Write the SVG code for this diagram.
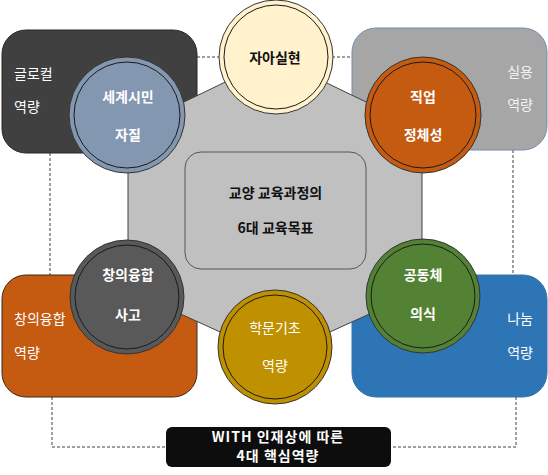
<svg xmlns="http://www.w3.org/2000/svg" width="548" height="475" viewBox="0 0 548 475">
<style>
text{font-family:"Noto Sans CJK KR","Noto Sans",sans-serif;font-size:14px;}
.b{font-weight:bold;}
.w{fill:#ffffff;}
.dash{fill:none;stroke:#404040;stroke-width:1;stroke-dasharray:3,2;}
.ring{fill:none;stroke:#1a1a1a;stroke-width:1;}
.outer{stroke:#333333;stroke-width:1;}
</style>
<rect width="548" height="475" fill="#ffffff"/>
<g id="connectors">
<line class="dash" x1="197" y1="57" x2="219" y2="57"/>
<line class="dash" x1="332" y1="57" x2="352" y2="57"/>
<line class="dash" x1="50" y1="153" x2="50" y2="275"/>
<line class="dash" x1="513" y1="150" x2="513" y2="275"/>
<polyline class="dash" points="52,397 52,447 167,447"/>
<polyline class="dash" points="516,397 516,447 391,447"/>
</g>
<g id="box-glocal">
<rect x="2" y="30" width="195" height="123" rx="24" fill="#404040" stroke="#262626"/>
<text x="14" y="79" class="w" font-size="13">글로컬</text>
<text x="14" y="112" class="w" font-size="13">역량</text>
</g>
<g id="box-practical">
<rect x="352" y="28" width="195" height="122" rx="24" fill="#a6a6a6" stroke="#6f8db0"/>
<text x="533" y="77" fill="#f2f2f2" font-size="13" text-anchor="end">실용</text>
<text x="533" y="110" fill="#f2f2f2" font-size="13" text-anchor="end">역량</text>
</g>
<g id="box-creative">
<rect x="2" y="275" width="195" height="122" rx="24" fill="#c55a11" stroke="#3a2a20"/>
<text x="14" y="324" class="w" font-size="13">창의융합</text>
<text x="14" y="358" class="w" font-size="13">역량</text>
</g>
<g id="box-sharing">
<rect x="352" y="275" width="195" height="122" rx="24" fill="#2e75b6" stroke="#2e75b6"/>
<text x="533" y="324" class="w" font-size="13" text-anchor="end">나눔</text>
<text x="533" y="358" class="w" font-size="13" text-anchor="end">역량</text>
</g>
<g id="hexagon">
<polygon points="275,58 422,129 422,290 275,357 128,290 128,129" fill="#c0c0c0" stroke="#404040" stroke-width="1"/>
</g>
<g id="center">
<rect x="185" y="152" width="181" height="117" rx="16" fill="#c0c0c0" stroke="#555555" stroke-width="1"/>
<text x="275.5" y="198" class="b" text-anchor="middle" fill="#111" font-size="15">교양 교육과정의</text>
<text x="275.5" y="233" class="b" text-anchor="middle" fill="#111" font-size="15">6대 교육목표</text>
</g>
<g id="node-self">
<circle cx="276" cy="57" r="57" fill="#fff2cc" class="outer"/>
<circle cx="276" cy="57" r="52" class="ring"/>
<text x="275" y="63" class="b" text-anchor="middle" fill="#111" font-size="15">자아실현</text>
</g>
<g id="node-global">
<circle cx="127" cy="115" r="58" fill="#8497b0" class="outer"/>
<circle cx="127" cy="115" r="53" class="ring"/>
<text x="128" y="102" class="b w" text-anchor="middle" font-size="15">세계시민</text>
<text x="128" y="140" class="b w" text-anchor="middle" font-size="15">자질</text>
</g>
<g id="node-job">
<circle cx="423" cy="115" r="58" fill="#c55a11" class="outer"/>
<circle cx="423" cy="115" r="53" class="ring"/>
<text x="423" y="102" class="b w" text-anchor="middle" font-size="15">직업</text>
<text x="423" y="140" class="b w" text-anchor="middle" font-size="15">정체성</text>
</g>
<g id="node-creative">
<circle cx="127" cy="297" r="57" fill="#595959" class="outer"/>
<circle cx="127" cy="297" r="52" class="ring"/>
<text x="128" y="280" class="b w" text-anchor="middle" font-size="15">창의융합</text>
<text x="128" y="320" class="b w" text-anchor="middle" font-size="15">사고</text>
</g>
<g id="node-academic">
<circle cx="275" cy="347" r="57" fill="#bf9000" class="outer"/>
<circle cx="275" cy="347" r="52" class="ring"/>
<text x="275" y="333" class="w" text-anchor="middle" font-size="15">학문기초</text>
<text x="275" y="371" class="w" text-anchor="middle" font-size="15">역량</text>
</g>
<g id="node-community">
<circle cx="423" cy="296" r="57" fill="#548235" class="outer"/>
<circle cx="423" cy="296" r="52" class="ring"/>
<text x="423" y="280" class="b w" text-anchor="middle" font-size="15">공동체</text>
<text x="423" y="319" class="b w" text-anchor="middle" font-size="15">의식</text>
</g>
<g id="label">
<rect x="166" y="427" width="225" height="40" rx="6" fill="#0d0d0d"/>
<text x="278" y="442" class="b w" text-anchor="middle" font-size="13" letter-spacing="1">WITH 인재상에 따른</text>
<text x="278" y="461" class="b w" text-anchor="middle" font-size="13" letter-spacing="1">4대 핵심역량</text>
</g>
</svg>
